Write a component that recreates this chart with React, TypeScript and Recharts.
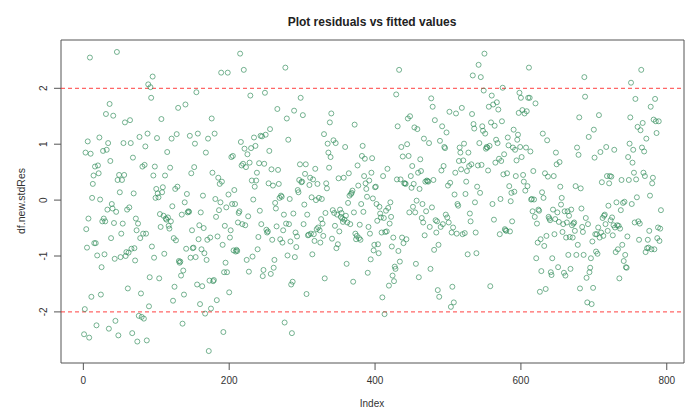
import React from "react"
import { ScatterChart, Scatter, XAxis, YAxis, ReferenceLine, ReferenceArea } from "recharts"

// standardized residuals, in observation order
const res001to101 = [
  -2.40, -1.95, 0.85, -0.52, -0.85, 1.05, -0.33, -2.46, 2.55, 0.83,
  -1.73, 0.04, 0.29, 0.44, -0.77, 0.60, -0.77, -2.24, -0.99, 0.62,
  0.48, 1.12, 0.01, -1.69, -1.20, -0.38, 0.88, -0.33, -0.97, -0.38,
  1.54, 0.90, -0.17, 1.02, -2.30, 1.72, 0.70, -0.68, -0.07, -0.15,
  1.51, -0.41, -1.05, -2.16, -0.21, 2.65, 0.36, -2.42, 0.45, 0.14,
  -1.02, -0.60, 0.36, -0.42, 1.02, 0.45, 1.39, -1.00, -0.93, -0.17,
  -1.58, -0.94, -0.13, 1.43, 1.02, -0.87, -2.38, 0.76, 0.12, -0.86,
  -1.08, -0.33, -0.54, -2.53, -0.42, -2.07, 1.13, -0.68, -1.67, -2.09,
  0.60, -0.60, -2.12, 0.63, 0.96, -0.60, -2.51, 1.19, 2.07, -1.90,
  -1.38, 2.02, 1.83, -0.83, 2.21, 0.44, -1.03, 0.60, 0.04, 0.20,
  1.11,
]
const res102to202 = [
  0.12, 0.05, -1.40, -0.25, -0.48, 1.45, 0.14, 0.23, -0.28, -0.96,
  0.44, -0.33, -0.35, 0.86, -0.31, -0.46, -0.51, 0.58, -0.38, 1.10,
  -0.11, -1.80, -0.68, -1.55, 0.20, -0.72, 1.18, 0.24, 1.65, -1.09,
  -1.12, -1.10, -1.35, -0.26, -2.21, -1.26, -1.69, -0.04, 1.71, -0.87,
  0.11, -0.22, -0.20, -0.21, 1.15, -1.03, 0.48, -0.54, -0.86, -0.85,
  0.59, 1.01, -1.02, 1.93, -1.51, 1.19, -0.70, -0.45, -1.86, -0.22,
  -0.88, -1.54, 0.08, -0.50, -0.95, -2.03, 0.85, -1.07, -0.71, 1.10,
  -2.70, -1.44, -0.67, -1.94, 1.46, 0.49, -1.45, -1.43, 1.19, 0.02,
  -0.30, -1.79, -0.65, 0.40, -0.18, 0.29, -0.04, 2.28, 0.33, -0.80,
  -2.36, -1.29, -0.46, -1.12, -0.13, -1.29, 2.28, 0.10, -1.65, -0.67,
  -0.54,
]
const res203to304 = [
  0.77, -0.07, 0.79, -0.90, 0.18, -0.07, -0.92, -0.89, -0.91, -0.40,
  -0.23, -0.20, 2.62, 1.04, 0.62, -0.43, 0.65, 2.33, 0.92, -0.45,
  0.59, -1.07, 0.82, -0.29, -1.28, 0.67, 1.87, 0.93, 0.35, -1.01,
  0.01, 1.12, 0.24, 0.97, 0.35, 0.49, -0.88, -0.66, 0.66, -0.19,
  1.15, -0.43, 1.14, -1.36, -1.25, 0.65, 1.92, 1.17, -0.53, -0.58,
  -0.56, 0.30, 0.88, 1.27, -1.32, 0.55, -0.71, 0.26, -1.21, -1.07,
  -0.05, -0.15, -0.47, 1.63, 0.54, 0.29, 0.04, -0.70, 0.08, 0.06,
  -0.76, -0.54, -0.26, -2.19, 2.37, -0.42, 1.46, -0.99, 1.08, -0.43,
  0.02, -0.74, -1.51, -2.38, -1.46, -0.24, 1.60, -1.02, -0.58, -0.84,
  -0.65, 0.18, 0.14, 0.36, 0.64, 1.83, 0.32, 0.33, 1.52, -0.43,
  -0.08, 0.47,
]
const res305to405 = [
  0.64, -1.68, -0.26, -0.63, -0.62, 0.27, 0.40, -0.60, 0.05, -0.97,
  0.37, -0.61, -0.73, 0.56, 0.00, -0.52, 0.29, -0.49, 0.04, -0.54,
  -0.76, -0.34, 0.02, -0.42, -0.64, 1.18, -1.40, -0.23, 0.30, 0.21,
  1.01, 0.85, 0.58, 1.39, 0.77, 1.55, -0.69, -0.18, 1.07, -0.23,
  -0.46, 1.02, -0.86, -0.26, -0.79, 0.39, -0.56, -0.17, -0.30, -0.23,
  -0.33, -0.39, 0.40, -0.35, 0.95, -0.28, -1.14, -0.40, -0.05, 0.48,
  0.08, -0.43, 0.11, 0.13, 0.17, -1.46, -0.22, 1.35, -0.60, -0.70,
  -0.64, 0.62, 0.26, -0.68, -0.44, -0.71, -0.07, 0.79, 0.97, -0.21,
  0.43, 0.74, 0.30, 0.20, 0.06, -1.30, -0.48, 0.35, -0.60, -1.06,
  0.49, 0.75, 0.03, -0.90, -0.80, 0.23, 0.24, -0.07, -0.37, -0.79,
  -0.95,
]
const res406to506 = [
  -0.12, -0.24, -0.31, -0.58, -1.74, 0.43, -0.32, -2.04, -0.57, -0.19,
  -0.56, 0.56, -0.14, -1.53, -0.42, -0.04, -0.30, -0.83, -1.35, -0.67,
  -1.45, -1.19, -1.23, 1.89, 0.37, 1.32, -0.91, 2.33, -1.10, 0.37,
  0.95, -0.67, 0.78, -0.77, 0.30, 0.30, 0.29, -0.70, 1.00, 1.46,
  0.79, -0.22, 1.50, 0.43, 0.22, 0.61, -0.12, 0.29, 1.30, -0.22,
  -1.14, -0.01, 1.27, 0.49, -1.38, 0.20, 0.73, 0.52, -0.32, -0.07,
  -0.40, 1.10, -0.63, 0.33, -0.20, 0.35, 0.34, 0.33, 1.02, -0.48,
  -1.23, 1.82, -0.13, 1.67, 0.36, -0.89, 1.43, -0.36, -0.58, -0.38,
  -1.61, -0.80, -1.73, 1.06, -0.48, 0.53, 1.32, -0.43, 0.61, 0.95,
  0.93, -0.26, 1.21, -0.31, 0.26, -0.40, 1.58, 0.31, -1.91, -0.58,
  -1.55,
]
const res507to607 = [
  -0.49, -1.83, 0.10, 0.49, 1.55, -0.60, -0.07, -0.10, 0.70, 0.94,
  0.85, 0.55, 1.65, -0.61, 0.71, 1.01, -0.59, 0.11, 0.33, 0.52,
  -0.97, 0.85, 0.61, -0.24, -0.38, 0.64, 1.54, 2.23, 1.36, 1.28,
  -0.04, -0.58, -0.95, 0.24, 0.62, 2.42, 1.02, 0.13, 2.20, 0.63,
  1.32, 1.24, 1.96, 2.62, 1.19, 0.92, 0.95, 0.94, 0.53, 1.67,
  0.97, -1.54, 1.39, 1.87, -0.07, 1.71, -0.35, 1.33, 0.67, 1.08,
  1.75, 1.02, 1.62, 0.74, -0.61, 0.02, 0.70, 1.41, 2.01, 0.46,
  0.82, -0.52, -0.54, -0.55, 0.48, 1.12, 0.98, 0.25, -0.56, -0.02,
  0.13, -0.38, 0.94, 1.26, 0.15, 0.90, 0.43, 0.71, 1.08, 1.17,
  1.56, 1.92, 0.95, 1.83, 0.77, 1.61, 0.45, 0.33, 1.55, 0.17,
  0.94,
]
const res608to708 = [
  1.59, 0.25, 1.83, 2.37, 1.83, 0.87, 0.01, 0.02, -0.20, 0.52,
  0.01, -0.30, 1.73, -1.04, -0.42, -0.76, -0.17, -0.19, -1.64, -0.70,
  -1.27, 0.14, 1.19, 0.04, -0.82, 0.48, -1.59, -0.64, 1.07, 0.42,
  -0.30, -0.33, -0.36, -1.29, -1.34, -1.04, -0.17, 0.43, -0.61, -0.34,
  0.85, 0.64, -0.22, -1.20, -0.39, 0.68, 0.24, -0.08, 0.04, -0.57,
  -0.43, -1.30, -0.20, -1.35, -0.67, -0.40, -0.20, -0.98, -0.28, -0.66,
  -1.23, -0.17, -0.45, -0.67, -0.42, -0.40, -0.55, 0.25, -0.98, 0.94,
  -0.80, 0.81, 1.48, -1.58, 0.21, -0.15, -0.48, -0.57, -0.98, 2.20,
  1.85, -0.32, -1.39, -1.83, -0.43, 1.13, -1.29, -1.21, -1.04, -1.86,
  -0.74, -1.57, 1.26, 0.76, -0.61, -0.92, -0.61, -0.96, -0.49, 1.52,
  -0.67,
]
const res709to792 = [
  0.86, -0.58, 0.32, -0.32, -0.64, -0.28, -0.26, -0.43, 0.95, 0.43,
  -0.55, -0.10, 0.30, 0.43, -0.36, 0.42, -0.31, -0.63, -0.45, 0.90,
  -0.49, -0.93, -0.04, -0.45, -0.88, -0.46, -1.40, -0.51, -0.18, 0.36,
  -0.80, -0.05, -1.09, -0.03, -0.98, -1.20, -1.21, -0.65, 0.77, 0.36,
  1.01, 1.48, 2.10, -0.07, 0.67, 0.90, 0.49, -0.40, 1.81, 0.37,
  0.05, 1.31, -0.38, -0.71, -0.42, 1.25, 2.33, 0.94, 1.38, 0.49,
  0.87, 0.43, -0.93, 1.10, -0.86, -0.71, -0.85, -0.55, 0.08, 1.67,
  -0.88, 0.30, 0.40, 1.44, -0.88, 1.81, 1.41, 1.20, -0.68, -0.49,
  1.41, -0.73, -0.51, -0.18,
]

const xTicks = [0, 200, 400, 600, 800]
const yTicks = [-2, -1, 0, 1, 2]
const cutoffs = [-2, 2]

const stdRes = [
  ...res001to101, ...res102to202, ...res203to304, ...res305to405,
  ...res406to506, ...res507to607, ...res608to708, ...res709to792,
]
const points = stdRes.map((v, i) => ({ idx: i + 1, res: v }))

// base-graphics style limits: data range padded by 4% each side
const n = points.length
const xPad = 0.04 * (n - 1)
const X_DOMAIN: [number, number] = [1 - xPad, n + xPad]
const yMin = Math.min(...stdRes)
const yMax = Math.max(...stdRes)
const yPad = 0.04 * (yMax - yMin)
const Y_DOMAIN: [number, number] = [yMin - yPad, yMax + yPad]

const W = 692
const H = 412
const FONT = "Arial, 'Liberation Sans', Helvetica, sans-serif"
const INK = "#333"

const OpenCircle = (props: any) => (
  <circle cx={props.cx} cy={props.cy} r={2.5} fill="none" stroke="#2e8b57" strokeOpacity={0.65} strokeWidth={1} />
)

const XTick = ({ x, y, payload }: any) => (
  <text x={x} y={y} dy={12} textAnchor="middle" fontSize={10} fill={INK} fontFamily={FONT}>
    {payload.value}
  </text>
)

const YTick = ({ x, y, payload }: any) => {
  const tx = x - 5
  return (
    <text x={tx} y={y} transform={`rotate(-90 ${tx} ${y})`} textAnchor="middle" fontSize={10} fill={INK} fontFamily={FONT}>
      {payload.value}
    </text>
  )
}

export default function App() {
  return (
    <div style={{ position: "relative", width: W, height: H, background: "#fff" }}>
      <style>{"body{margin:0}"}</style>
      <ScatterChart width={W} height={H} margin={{ top: 40, right: 8, bottom: 0, left: 0 }}>
        <XAxis
          type="number"
          dataKey="idx"
          domain={X_DOMAIN}
          ticks={xTicks}
          allowDataOverflow
          height={49}
          axisLine={false}
          tickSize={7}
          tickLine={{ stroke: "#555" }}
          tick={<XTick />}
        />
        <YAxis
          type="number"
          dataKey="res"
          domain={Y_DOMAIN}
          ticks={yTicks}
          allowDataOverflow
          width={61}
          axisLine={false}
          tickSize={7}
          tickLine={{ stroke: "#555" }}
          tick={<YTick />}
        />
        <ReferenceArea
          x1={X_DOMAIN[0]}
          x2={X_DOMAIN[1]}
          y1={Y_DOMAIN[0]}
          y2={Y_DOMAIN[1]}
          fill="none"
          stroke="#555"
          strokeWidth={1}
        />
        {cutoffs.map((c) => (
          <ReferenceLine key={c} y={c} stroke="#ff2020" strokeOpacity={0.85} strokeDasharray="4 3" />
        ))}
        <Scatter data={points} shape={<OpenCircle />} isAnimationActive={false} />
      </ScatterChart>
      <svg width={W} height={H} style={{ position: "absolute", left: 0, top: 0, pointerEvents: "none" }}>
        <text x={372} y={26} textAnchor="middle" fontSize={12} fontWeight="bold" fill="#222" fontFamily={FONT}>
          Plot residuals vs fitted values
        </text>
        <text x={372} y={407} textAnchor="middle" fontSize={10} fill={INK} fontFamily={FONT}>
          Index
        </text>
        <text x={25} y={201} transform="rotate(-90 25 201)" textAnchor="middle" fontSize={10.5} fill={INK} fontFamily={FONT}>
          df.new.stdRes
        </text>
      </svg>
    </div>
  )
}
